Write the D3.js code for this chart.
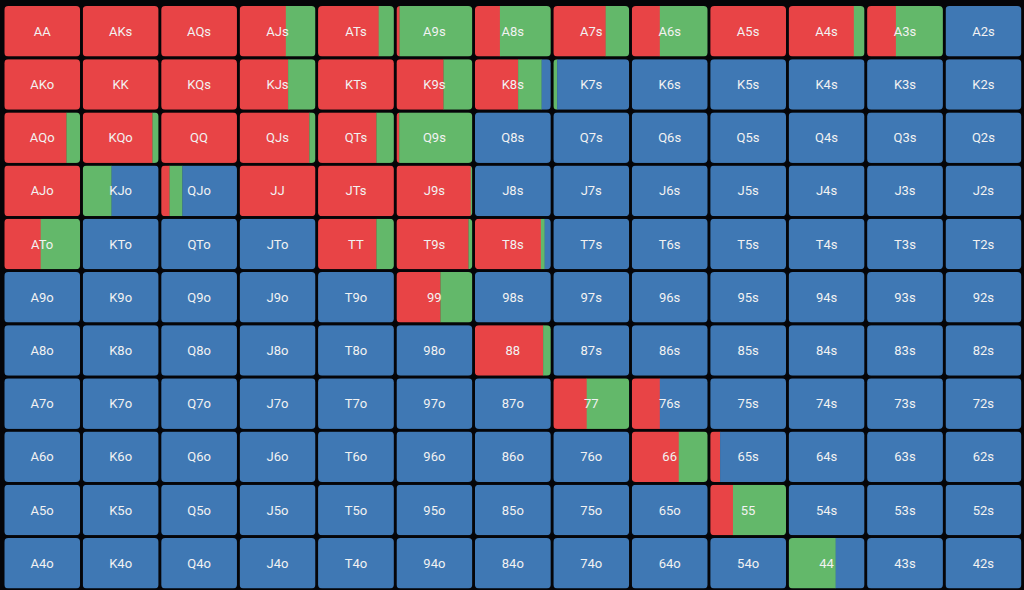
<!DOCTYPE html>
<html>
<head>
<meta charset="utf-8">
<script src="https://cdn.jsdelivr.net/npm/d3@7"></script>
<style>
  html, body { margin: 0; padding: 0; background: #050508; }
  svg { display: block; }
  .label { font-family: Roboto, "Noto Sans", sans-serif; font-size: 13px; fill: #f2f2f2; }
</style>
</head>
<body>
<div id="chart"></div>
<script>
// 牌面等级
const ranks = ['A', 'K', 'Q', 'J', 'T', '9', '8', '7', '6', '5', '4', '3', '2'];
const rowRanks = ranks.slice(0, 11);

// raise 频率（其余未列出的手牌为 0）
const raiseFreq = {
    AA: 1, AKs: 1, AQs: 1, AJs: 0.61, ATs: 0.80, A9s: 0.04, A8s: 0.33, A7s: 0.69,
    A6s: 0.37, A5s: 1, A4s: 0.86, A3s: 0.38,
    AKo: 1, KK: 1, KQs: 1, KJs: 0.64, KTs: 1, K9s: 0.62, K8s: 0.57,
    AQo: 0.82, KQo: 0.92, QQ: 1, QJs: 0.92, QTs: 0.77, Q9s: 0.035,
    AJo: 1, QJo: 0.11, JJ: 1, JTs: 1, J9s: 0.98,
    ATo: 0.48, TT: 0.77, T9s: 0.95, T8s: 0.87,
    '99': 0.58, '88': 0.90, '77': 0.44, '76s': 0.37, '66': 0.62, '65s': 0.13, '55': 0.30
};

// call 频率
const callFreq = {
    AJs: 0.39, ATs: 0.20, A9s: 0.96, A8s: 0.67, A7s: 0.31, A6s: 0.63, A4s: 0.14, A3s: 0.62,
    KJs: 0.36, K9s: 0.38, K8s: 0.31, K7s: 0.05,
    AQo: 0.18, KQo: 0.08, QJs: 0.08, QTs: 0.23, Q9s: 0.965,
    KJo: 0.38, QJo: 0.17, J9s: 0.02,
    ATo: 0.52, TT: 0.23, T9s: 0.05, T8s: 0.05,
    '99': 0.42, '88': 0.10, '77': 0.56, '66': 0.38, '55': 0.70, '44': 0.62
};

const actions = ['raise', 'call', 'fold'];
const colors = { raise: '#e84446', call: '#63b86a', fold: '#3f78b4' };

function handName(i, j) {
    if (i === j) return ranks[i] + ranks[j];
    if (j > i) return ranks[i] + ranks[j] + 's';
    return ranks[j] + ranks[i] + 'o';
}

const width = 1024;
const height = 590;

const svg = d3.select('#chart').append('svg')
    .attr('width', width)
    .attr('height', height);

const x = d3.scaleBand().domain(ranks).range([4.3, 1021.3]).paddingInner(0.034);
const y = d3.scaleBand().domain(rowRanks).range([6, 588.5]).paddingInner(0.05);
const w = d3.scaleLinear().domain([0, 1]).range([0, x.bandwidth()]);

// 构建单元格数据
const cells = [];
rowRanks.forEach((r, i) => {
    ranks.forEach((c, j) => {
        const name = handName(i, j);
        const raise = raiseFreq[name] || 0;
        const call = callFreq[name] || 0;
        const fold = Math.max(0, 1 - raise - call);
        cells.push({ name, row: r, col: c, freqs: { raise, call, fold } });
    });
});

const defs = svg.append('defs');
defs.selectAll('clipPath')
    .data(cells)
    .enter()
    .append('clipPath')
    .attr('id', (d, k) => 'clip' + k)
    .append('rect')
    .attr('x', d => x(d.col))
    .attr('y', d => y(d.row))
    .attr('width', x.bandwidth())
    .attr('height', y.bandwidth())
    .attr('rx', 4);

const cell = svg.selectAll('.cell')
    .data(cells)
    .enter()
    .append('g')
    .attr('class', 'cell')
    .attr('clip-path', (d, k) => `url(#clip${k})`);

// 绘制各动作的比例段
cell.selectAll('rect')
    .data(d => {
        let acc = 0;
        return actions.map(a => {
            const seg = { a, x0: acc, x1: acc + d.freqs[a], d };
            acc += d.freqs[a];
            return seg;
        }).filter(s => s.x1 > s.x0);
    })
    .enter()
    .append('rect')
    .attr('x', s => x(s.d.col) + w(s.x0))
    .attr('y', s => y(s.d.row))
    .attr('width', s => w(s.x1) - w(s.x0) + 0.3)
    .attr('height', y.bandwidth())
    .attr('fill', s => colors[s.a]);

cell.append('text')
    .attr('class', 'label')
    .attr('x', d => x(d.col) + x.bandwidth() / 2)
    .attr('y', d => y(d.row) + y.bandwidth() / 2)
    .attr('text-anchor', 'middle')
    .attr('dominant-baseline', 'central')
    .text(d => d.name);
</script>
</body>
</html>
